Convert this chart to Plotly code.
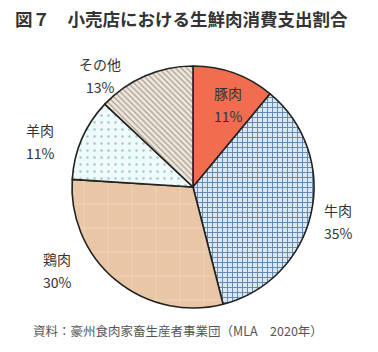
import plotly.graph_objects as go

categories = ["豚肉", "牛肉", "鶏肉", "羊肉", "その他"]
values = [11, 35, 30, 11, 13]
pct_labels = ["11%", "35%", "30%", "11%", "13%"]

title_text = "図７　小売店における生鮮肉消費支出割合"
source_text = "資料：豪州食肉家畜生産者事業団（MLA　2020年）"

W, H = 378, 352
cx, cy, r = 193, 187, 121

fig = go.Figure(go.Pie(
    labels=categories,
    values=values,
    sort=False,
    direction="clockwise",
    rotation=0,
    textinfo="none",
    hoverinfo="none",
    domain=dict(x=[(cx - r) / W, (cx + r) / W], y=[(H - cy - r) / H, (H - cy + r) / H]),
    marker=dict(
        colors=["#f26c50", "#dbe8f4", "#e8c6a6", "#eef9fa", "#efe8de"],
        line=dict(color="#222222", width=1.6),
        pattern=dict(
            shape=["", "+", "+", ".", "\\"],
            fgcolor=["#f26c50", "#6088b0", "#f3dcc2", "#9acccc", "#a99c8c"],
            bgcolor=["#f26c50", "#dbe8f4", "#e8c6a6", "#f0fafb", "#efe8de"],
            fillmode="replace",
            size=[8, 5, 24, 7, 4],
            solidity=[0.1, 0.35, 0.05, 0.1, 0.3],
        ),
    ),
    showlegend=False,
))

# label positions (pixel coordinates of label centers: name line, pct line)
label_pos = [(228, 93), (338, 210), (57, 259), (40, 130), (100, 64)]
line_gap = 23
anns = []
for name, pct, (x, y) in zip(categories, pct_labels, label_pos):
    for txt, yy in ((name, y), (pct, y + line_gap)):
        anns.append(dict(
            x=x / W, y=1 - yy / H, xref="paper", yref="paper",
            text=txt, showarrow=False,
            font=dict(family="Noto Sans CJK JP", size=14, color="#333333"),
            align="center", xanchor="center", yanchor="middle",
        ))
anns.append(dict(
    x=13 / W, y=1 - 19 / H, xref="paper", yref="paper", text=f"<b>{title_text}</b>",
    showarrow=False, xanchor="left", yanchor="middle",
    font=dict(family="Noto Sans CJK JP", size=17.5, color="#333333"),
))
anns.append(dict(
    x=31 / W, y=1 - 330 / H, xref="paper", yref="paper", text=source_text,
    showarrow=False, xanchor="left", yanchor="middle",
    font=dict(family="Noto Sans CJK JP", size=12.5, color="#555555"),
))

fig.update_layout(
    width=W, height=H,
    margin=dict(l=0, r=0, t=0, b=0),
    paper_bgcolor="white",
    plot_bgcolor="white",
    annotations=anns,
)

fig.write_html("out.html")
